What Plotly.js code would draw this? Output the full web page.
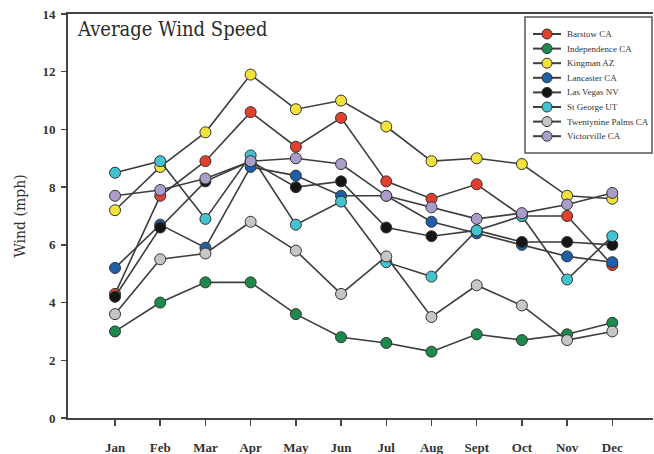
<!DOCTYPE html>
<html>
<head>
<meta charset="utf-8">
<script src="https://cdn.plot.ly/plotly-3.0.1.min.js"></script>
<style>html,body{margin:0;padding:0;background:#fff;}#chart{width:654px;height:454px;}</style>
</head>
<body>
<div id="chart"></div>
<script>
const months = ["Jan","Feb","Mar","Apr","May","Jun","Jul","Aug","Sept","Oct","Nov","Dec"];
const yTicks = [0,2,4,6,8,10,12,14];

const barstow       = [4.3, 7.7, 8.9, 10.6, 9.4, 10.4, 8.2, 7.6, 8.1, 7.0, 7.0, 5.3];
const independence  = [3.0, 4.0, 4.7, 4.7, 3.6, 2.8, 2.6, 2.3, 2.9, 2.7, 2.9, 3.3];
const kingman       = [7.2, 8.7, 9.9, 11.9, 10.7, 11.0, 10.1, 8.9, 9.0, 8.8, 7.7, 7.6];
const lancaster     = [5.2, 6.7, 5.9, 8.7, 8.4, 7.7, 7.7, 6.8, 6.4, 6.0, 5.6, 5.4];
const lasVegas      = [4.2, 6.6, 8.2, 8.9, 8.0, 8.2, 6.6, 6.3, 6.5, 6.1, 6.1, 6.0];
const stGeorge      = [8.5, 8.9, 6.9, 9.1, 6.7, 7.5, 5.4, 4.9, 6.5, 7.0, 4.8, 6.3];
const twentynine    = [3.6, 5.5, 5.7, 6.8, 5.8, 4.3, 5.6, 3.5, 4.6, 3.9, 2.7, 3.0];
const victorville   = [7.7, 7.9, 8.3, 8.9, 9.0, 8.8, 7.7, 7.3, 6.9, 7.1, 7.4, 7.8];

const seriesNames = ["Barstow CA","Independence CA","Kingman AZ","Lancaster CA","Las Vegas NV","St George UT","Twentynine Palms CA","Victorville CA"];
const seriesValues = [barstow, independence, kingman, lancaster, lasVegas, stGeorge, twentynine, victorville];
const seriesColors = ["#e2402d","#1b8a4c","#f4e23c","#1f5ea8","#151515","#42c3cf","#c6c6c6","#ab9dca"];

const traces = seriesNames.map((name, i) => ({
  type: "scatter",
  mode: "lines+markers",
  name: name,
  x: months.map((m, j) => j),
  y: seriesValues[i],
  line: {color: "#3d3d3d", width: 1.6},
  marker: {size: 11, color: seriesColors[i], line: {color: "#333", width: 1}}
}));

// plot-area geometry (pixels) used to place the hand-built legend box
const W = 654, H = 454;
const M = {l: 68, r: 1, t: 14, b: 36};
const pw = W - M.l - M.r, ph = H - M.t - M.b;
const px = v => (v - M.l) / pw;
const py = v => (H - M.b - v) / ph;

const legBox = {left: 525, right: 652, top: 17, bottom: 153};
const legRow0 = 34, legStep = 14.6;

const shapes = [{
  type: "rect", xref: "paper", yref: "paper", layer: "above",
  x0: px(legBox.left), x1: px(legBox.right), y0: py(legBox.bottom), y1: py(legBox.top),
  line: {color: "#555", width: 1.5}, fillcolor: "#fff"
}];
const annotations = [];
seriesNames.forEach((name, i) => {
  const yy = py(legRow0 + legStep * i);
  shapes.push({
    type: "line", xref: "paper", yref: "paper", layer: "above",
    x0: px(533), x1: px(561), y0: yy, y1: yy,
    line: {color: "#3d3d3d", width: 2}
  });
  shapes.push({
    type: "circle", xref: "paper", yref: "paper", layer: "above",
    xsizemode: "pixel", ysizemode: "pixel",
    xanchor: px(547), yanchor: yy,
    x0: -5, x1: 5, y0: -5, y1: 5,
    fillcolor: seriesColors[i], line: {color: "#333", width: 1}
  });
  annotations.push({
    xref: "paper", yref: "paper", x: px(565), y: yy,
    xanchor: "left", yanchor: "middle", showarrow: false,
    text: name, font: {family: "Liberation Serif, serif", size: 9, color: "#333"}
  });
});

const layout = {
  width: W, height: H,
  margin: M,
  paper_bgcolor: "#fff", plot_bgcolor: "#fff",
  showlegend: false,
  title: {
    text: "Average Wind Speed",
    font: {family: "DejaVu Serif Condensed, DejaVu Serif, serif", size: 20, color: "#2a2a2a"},
    xref: "paper", yref: "paper",
    x: 0.017, xanchor: "left",
    y: 0.98, yanchor: "top"
  },
  xaxis: {
    range: [-1.04, 11.9],
    tickmode: "array",
    tickvals: months.map((m, j) => j),
    ticktext: months,
    showgrid: false, zeroline: false,
    showline: true, linecolor: "#444", linewidth: 2, mirror: true,
    ticks: "outside", ticklen: 6, tickwidth: 1.5, tickcolor: "#444",
    ticklabelstandoff: 10,
    tickfont: {family: "Liberation Serif, serif", size: 13, color: "#333", weight: "bold"}
  },
  yaxis: {
    range: [0, 14],
    tickmode: "array",
    tickvals: yTicks,
    showgrid: false, zeroline: false,
    showline: true, linecolor: "#444", linewidth: 2,
    ticks: "outside", ticklen: 5, tickwidth: 1.5, tickcolor: "#444",
    ticklabelstandoff: 3,
    tickfont: {family: "Liberation Serif, serif", size: 13, color: "#333", weight: "bold"},
    title: {text: "Wind (mph)", font: {family: "DejaVu Serif, serif", size: 14, color: "#333"}, standoff: 14}
  },
  shapes: shapes,
  annotations: annotations
};

Plotly.newPlot("chart", traces, layout, {displayModeBar: false, staticPlot: true});
</script>
</body>
</html>
